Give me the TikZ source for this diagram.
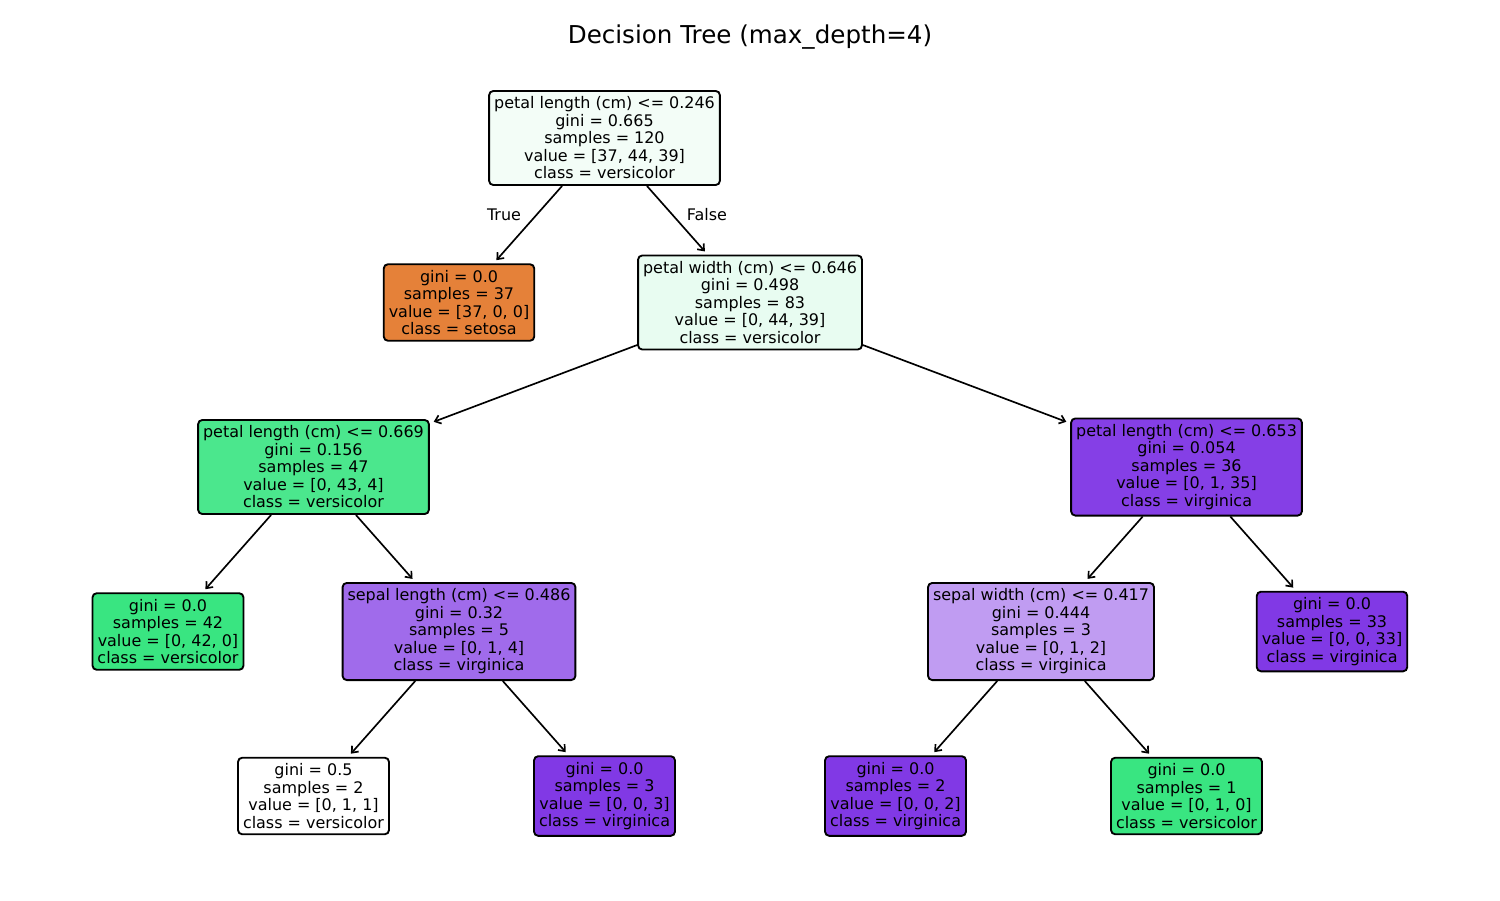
\documentclass[tikz,border=0pt]{standalone}
\usepackage{fontspec}
\setmainfont{DejaVu Sans}
\usetikzlibrary{positioning,arrows.meta}
\definecolor{setosa}{RGB}{229,129,57}
\definecolor{versi}{RGB}{57,229,129}
\definecolor{virgi}{RGB}{129,57,229}

\begin{document}
\begin{tikzpicture}[
    x=0.48pt, y=-0.48pt,
    node distance={78.96pt and 69.84pt}, on grid,
    tnode/.style={rectangle,draw,line width=0.9pt,rounded corners=2pt,align=center,
        inner xsep=2.4pt,inner ysep=2.8pt,font=\fontsize{7.66}{8.4}\selectfont},
    edge/.style={line width=0.8pt,-{Straight Barb[length=2.6pt,width=4.2pt]},shorten >=2pt},
    lbl/.style={font=\fontsize{7.66}{8.4}\selectfont}
    ]
        \useasboundingbox (0,0) rectangle (1500,900);
        \node (title) at (750,37) {\fontsize{11.8}{13}\selectfont Decision Tree (max\_depth=4)};

        % depth 0
        \node [tnode,fill=versi!6.2!white](root) at (604.5,138)
            {petal length (cm) <= 0.246\\gini = 0.665\\samples = 120\\value = [37, 44, 39]\\class = versicolor};
        % depth 1
        \node [tnode,fill=setosa](setosa) [below left=of root]
            {gini = 0.0\\samples = 37\\value = [37, 0, 0]\\class = setosa};
        \node [tnode,fill=versi!11.4!white](pw) [below right=of root]
            {petal width (cm) <= 0.646\\gini = 0.498\\samples = 83\\value = [0, 44, 39]\\class = versicolor};
        % depth 2
        \node [tnode,fill=versi!90.7!white](plA) [below left=78.96pt and 3*69.84pt of pw]
            {petal length (cm) <= 0.669\\gini = 0.156\\samples = 47\\value = [0, 43, 4]\\class = versicolor};
        \node [tnode,fill=virgi!97.1!white](plB) [below right=78.96pt and 3*69.84pt of pw]
            {petal length (cm) <= 0.653\\gini = 0.054\\samples = 36\\value = [0, 1, 35]\\class = virginica};
        % depth 3
        \node [tnode,fill=versi](leafA) [below left=of plA]
            {gini = 0.0\\samples = 42\\value = [0, 42, 0]\\class = versicolor};
        \node [tnode,fill=virgi!75!white](sl) [below right=of plA]
            {sepal length (cm) <= 0.486\\gini = 0.32\\samples = 5\\value = [0, 1, 4]\\class = virginica};
        \node [tnode,fill=virgi!50!white](sw) [below left=of plB]
            {sepal width (cm) <= 0.417\\gini = 0.444\\samples = 3\\value = [0, 1, 2]\\class = virginica};
        \node [tnode,fill=virgi](leafB) [below right=of plB]
            {gini = 0.0\\samples = 33\\value = [0, 0, 33]\\class = virginica};
        % depth 4
        \node [tnode,fill=white](leafC) [below left=of sl]
            {gini = 0.5\\samples = 2\\value = [0, 1, 1]\\class = versicolor};
        \node [tnode,fill=virgi](leafD) [below right=of sl]
            {gini = 0.0\\samples = 3\\value = [0, 0, 3]\\class = virginica};
        \node [tnode,fill=virgi](leafE) [below left=of sw]
            {gini = 0.0\\samples = 2\\value = [0, 0, 2]\\class = virginica};
        \node [tnode,fill=versi](leafF) [below right=of sw]
            {gini = 0.0\\samples = 1\\value = [0, 1, 0]\\class = versicolor};

        \draw [edge] (root) -- (setosa);
        \draw [edge] (root) -- (pw);
        \node [lbl](tlabel) at (504,215) {True};
        \node [lbl](flabel) at (707,215) {False};
        \draw [edge] (pw) -- (plA);
        \draw [edge] (pw) -- (plB);
        \draw [edge] (plA) -- (leafA);
        \draw [edge] (plA) -- (sl);
        \draw [edge] (plB) -- (sw);
        \draw [edge] (plB) -- (leafB);
        \draw [edge] (sl) -- (leafC);
        \draw [edge] (sl) -- (leafD);
        \draw [edge] (sw) -- (leafE);
        \draw [edge] (sw) -- (leafF);

\end{tikzpicture}
\end{document}
